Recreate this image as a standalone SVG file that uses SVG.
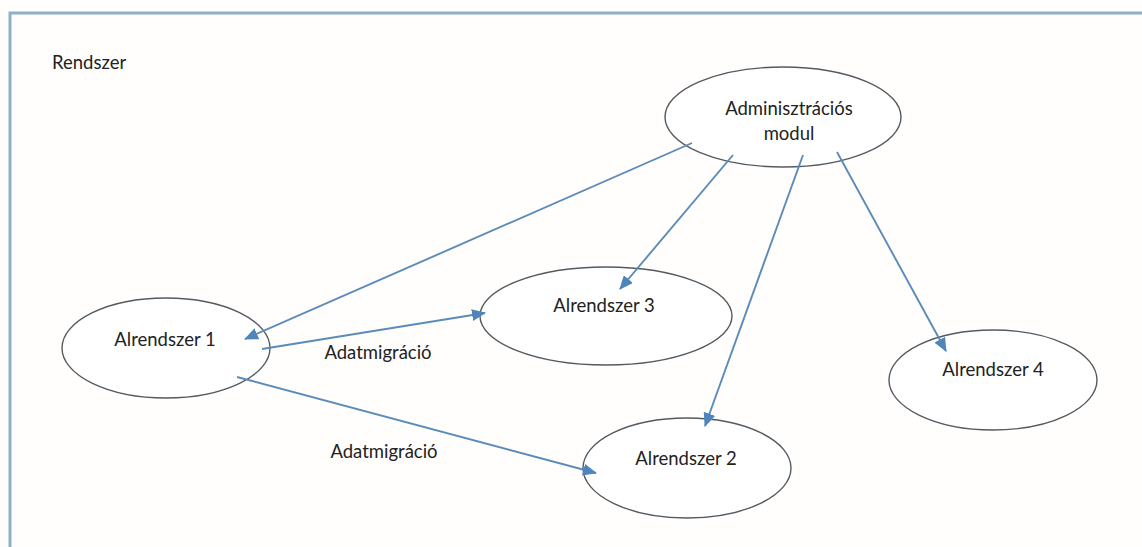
<svg xmlns="http://www.w3.org/2000/svg" width="1142" height="547" viewBox="0 0 1142 547">
<defs>
<style>
.bg{fill:#fffefc}
.frame{stroke:#8db0c9;stroke-width:3;fill:none}
.node ellipse{fill:#ffffff;stroke:#555a60;stroke-width:1.4}
.t{font-family:Lato,"Liberation Sans",sans-serif;font-size:18.5px;fill:#222222}
.c{text-anchor:middle}
.conn line{stroke:#5b8bb8;stroke-width:1.9;fill:none;marker-end:url(#ah)}
</style>
<marker id="ah" markerUnits="userSpaceOnUse" markerWidth="14" markerHeight="12" viewBox="0 0 14 12" refX="13" refY="6" orient="auto">
<path d="M0,0 L14,6 L0,12 Z" fill="#4f85bb"/>
</marker>
</defs>
<rect class="bg" x="0" y="0" width="1142" height="547"/>
<path class="frame" d="M10,547 L10,13 L1142,13"/>
<text class="t" x="52" y="69">Rendszer</text>
<g id="admin" class="node">
<ellipse cx="783" cy="117" rx="118" ry="50"/>
<text class="t c" x="789" y="115">Adminisztrációs</text>
<text class="t c" x="789" y="140">modul</text>
</g>
<g id="alr1" class="node">
<ellipse cx="166" cy="348" rx="104" ry="50"/>
<text class="t c" x="165" y="346">Alrendszer 1</text>
</g>
<g id="alr3" class="node">
<ellipse cx="606" cy="316" rx="126" ry="49"/>
<text class="t c" x="604" y="312">Alrendszer 3</text>
</g>
<g id="alr2" class="node">
<ellipse cx="687" cy="468" rx="104" ry="50"/>
<text class="t c" x="686" y="465">Alrendszer 2</text>
</g>
<g id="alr4" class="node">
<ellipse cx="993" cy="380" rx="104" ry="50"/>
<text class="t c" x="993" y="376">Alrendszer 4</text>
</g>
<g id="connectors" class="conn">
<line x1="692" y1="143" x2="245" y2="339"/>
<line x1="733" y1="155" x2="620" y2="289"/>
<line x1="803" y1="155" x2="705" y2="426"/>
<line x1="837" y1="152" x2="946" y2="351"/>
<line x1="262" y1="349" x2="485" y2="313"/>
<line x1="237" y1="377" x2="596" y2="473"/>
</g>
<text class="t c" x="378" y="359">Adatmigráció</text>
<text class="t c" x="384" y="458">Adatmigráció</text>
</svg>
